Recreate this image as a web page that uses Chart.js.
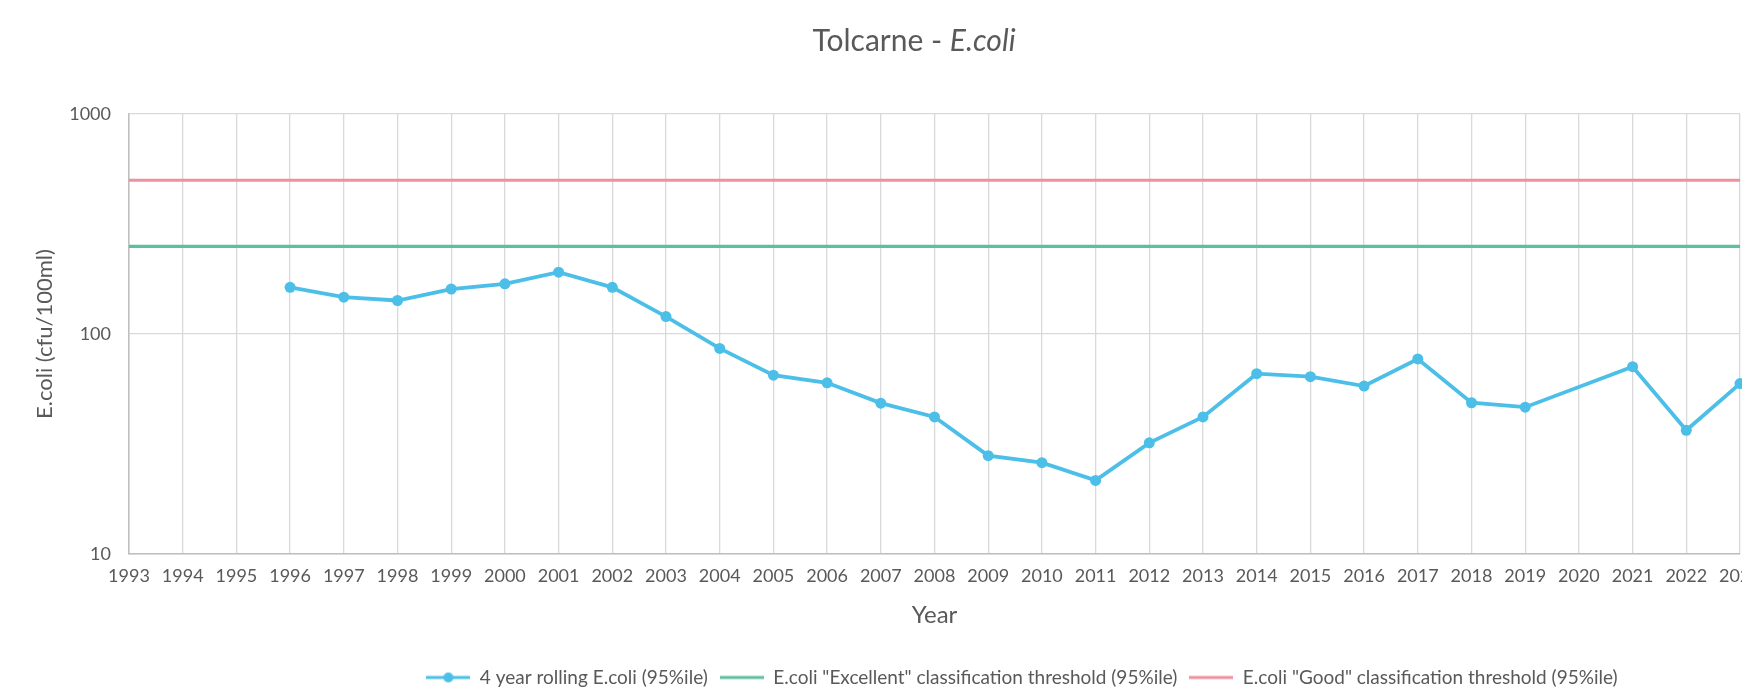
<!DOCTYPE html>
<html>
<head>
<meta charset="utf-8">
<title>Tolcarne - E.coli</title>
<script src="https://cdn.jsdelivr.net/npm/chart.js@4"></script>
<style>
  html, body { margin: 0; padding: 0; background: #fff; overflow: hidden; }
</style>
</head>
<body>
<canvas id="myChart" width="1828" height="691"></canvas>
<script>
const years = ['1993', '1994', '1995', '1996', '1997', '1998', '1999', '2000', '2001', '2002',
    '2003', '2004', '2005', '2006', '2007', '2008', '2009', '2010', '2011', '2012',
    '2013', '2014', '2015', '2016', '2017', '2018', '2019', '2020', '2021', '2022', '2023'];

// 4 year rolling 95%ile, no value for 2020
const rollingEcoli = [null, null, null, 163, 147, 142, 160, 169, 191, 163,
    120, 86, 65, 60, 48.5, 42, 28, 26, 21.6, 32,
    42, 66, 64, 58, 77, 48.7, 46.5, null, 71, 36.5, 59.5];

const excellentThreshold = [250, 250, 250, 250, 250, 250, 250, 250, 250, 250,
    250, 250, 250, 250, 250, 250, 250, 250, 250, 250,
    250, 250, 250, 250, 250, 250, 250, 250, 250, 250, 250];

const goodThreshold = [500, 500, 500, 500, 500, 500, 500, 500, 500, 500,
    500, 500, 500, 500, 500, 500, 500, 500, 500, 500,
    500, 500, 500, 500, 500, 500, 500, 500, 500, 500, 500];

const yTicks = [10, 100, 1000];

const seriesNames = [
    '4 year rolling E.coli (95%ile)',
    'E.coli "Excellent" classification threshold (95%ile)',
    'E.coli "Good" classification threshold (95%ile)'
];

const textColor = '#595959';
const blue = '#4cbfe8';
const green = '#5cbf9e';
const pink = '#ef909c';

// little legend markers: a line, and a line with a dot for the rolling series
const makeMarker = (color, withDot) => {
    const c = document.createElement('canvas');
    c.width = 44;
    c.height = 12;
    const g = c.getContext('2d');
    g.strokeStyle = color;
    g.lineWidth = 3;
    g.beginPath();
    g.moveTo(0, 6);
    g.lineTo(44, 6);
    g.stroke();
    if (withDot) {
        g.fillStyle = color;
        g.beginPath();
        g.arc(22, 6, 5, 0, Math.PI * 2);
        g.fill();
    }
    return c;
};
const legendMarkers = [makeMarker(blue, true), makeMarker(green, false), makeMarker(pink, false)];

const titlePlugin = {
    id: 'mixedTitle',
    afterDraw(chart) {
        const ctx = chart.ctx;
        const a = 'Tolcarne - ';
        const b = 'E.coli';
        ctx.save();
        ctx.fillStyle = textColor;
        ctx.textBaseline = 'middle';
        ctx.font = '30px Lato';
        const wa = ctx.measureText(a).width;
        ctx.font = 'italic 30px Lato';
        const wb = ctx.measureText(b).width;
        const x0 = 914 - (wa + wb) / 2;
        ctx.font = '30px Lato';
        ctx.fillText(a, x0, 41);
        ctx.font = 'italic 30px Lato';
        ctx.fillText(b, x0 + wa, 41);
        ctx.restore();
    }
};

// the legend sits right of centre in the original
const legendShift = {
    id: 'legendShift',
    afterLayout(chart) {
        const lg = chart.legend;
        const dx = 1022 - (lg.left + lg.right) / 2;
        lg.left += dx;
        lg.right += dx;
    }
};

const ctx = document.getElementById('myChart').getContext('2d');
const myChart = new Chart(ctx, {
    type: 'line',
    data: {
        labels: years,
        datasets: [{
            label: seriesNames[0],
            data: rollingEcoli,
            borderColor: blue,
            backgroundColor: blue,
            borderWidth: 3.8,
            pointRadius: 5.5,
            pointBackgroundColor: blue,
            pointBorderWidth: 0,
            spanGaps: true,
            tension: 0,
            order: 0
        }, {
            label: seriesNames[1],
            data: excellentThreshold,
            borderColor: green,
            backgroundColor: green,
            borderWidth: 3.2,
            pointRadius: 0,
            order: 1
        }, {
            label: seriesNames[2],
            data: goodThreshold,
            borderColor: pink,
            backgroundColor: pink,
            borderWidth: 3.2,
            pointRadius: 0,
            order: 2
        }]
    },
    options: {
        responsive: false,
        animation: false,
        devicePixelRatio: 1,
        layout: {
            padding: { top: 114, right: 88, left: 0, bottom: -6 }
        },
        plugins: {
            title: { display: false },
            tooltip: { enabled: false },
            legend: {
                position: 'bottom',
                labels: {
                    usePointStyle: true,
                    pointStyleWidth: 44,
                    padding: 12,
                    color: textColor,
                    font: { family: 'Lato', size: 19 },
                    generateLabels: (chart) => {
                        const items = Chart.defaults.plugins.legend.labels.generateLabels(chart);
                        items.forEach((item, i) => { item.pointStyle = legendMarkers[i]; });
                        return items;
                    }
                }
            }
        },
        scales: {
            x: {
                type: 'category',
                grid: { color: '#d9d9d9', lineWidth: 1.3, drawTicks: false },
                border: { color: '#bfbfbf', width: 1.5 },
                ticks: {
                    autoSkip: false,
                    maxRotation: 0,
                    padding: 11,
                    color: textColor,
                    font: { family: 'Lato', size: 18 }
                },
                title: {
                    display: true,
                    text: 'Year',
                    color: textColor,
                    font: { family: 'Lato', size: 24 },
                    padding: { top: 10, bottom: 26.6 }
                },
                afterFit: (scale) => { scale.height = 102; }
            },
            y: {
                type: 'logarithmic',
                min: 10,
                max: 1000,
                grid: { color: '#d9d9d9', lineWidth: 1.3, drawTicks: false },
                border: { color: '#bfbfbf', width: 1.5 },
                afterBuildTicks: (scale) => {
                    scale.ticks = yTicks.map(v => ({ value: v }));
                },
                ticks: {
                    padding: 18,
                    color: textColor,
                    font: { family: 'Lato', size: 18 },
                    callback: (value) => String(value)
                },
                title: {
                    display: true,
                    text: 'E.coli (cfu/100ml)',
                    color: textColor,
                    font: { family: 'Lato', size: 22 },
                    padding: { top: 32, bottom: 10 }
                },
                afterFit: (scale) => { scale.width = 129; }
            }
        }
    },
    plugins: [titlePlugin, legendShift]
});
</script>
</body>
</html>
